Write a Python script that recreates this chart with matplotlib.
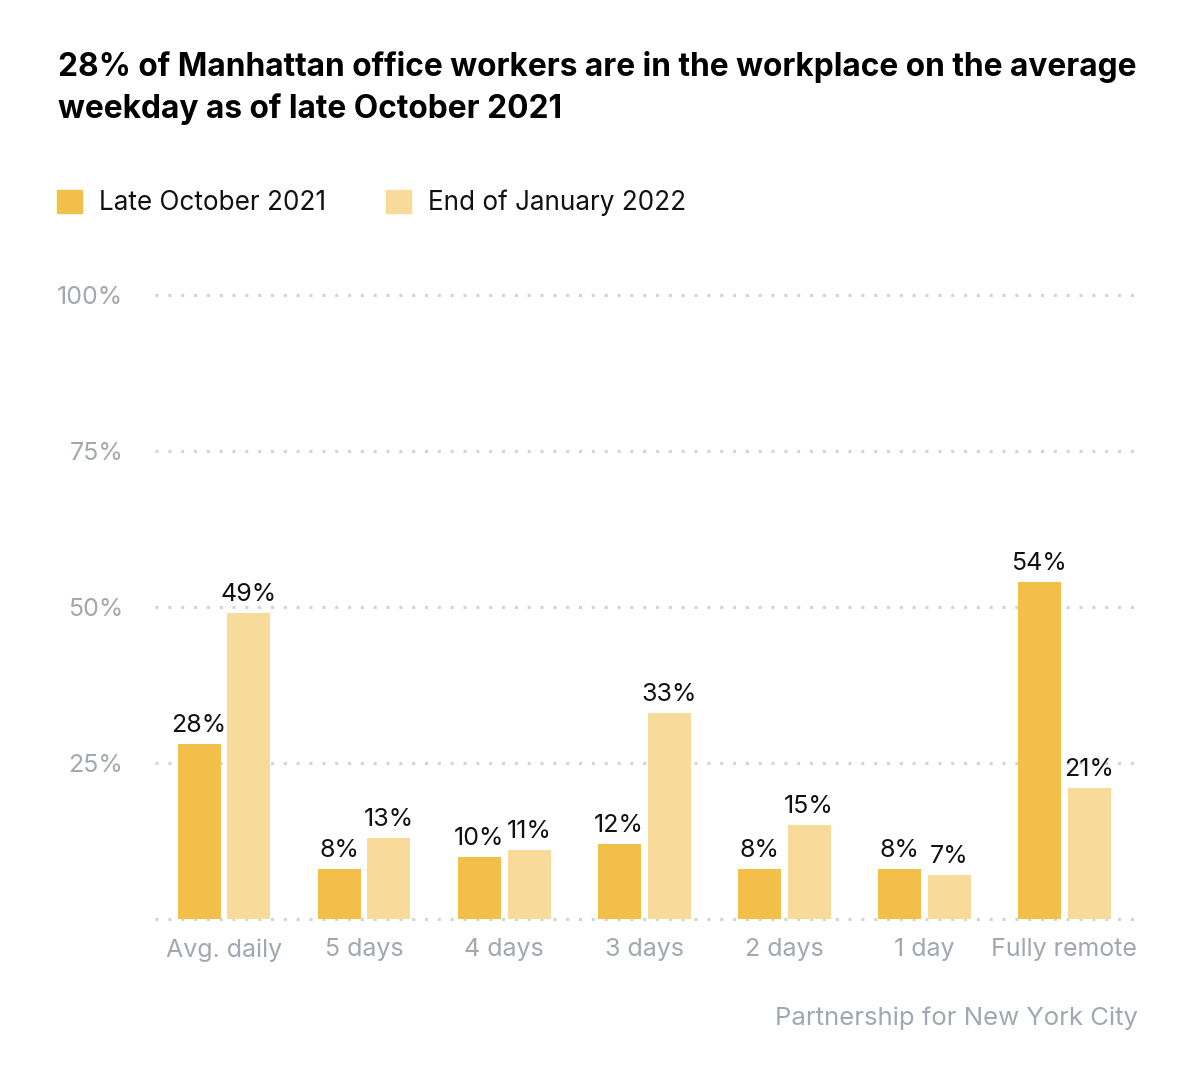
import numpy as np
import matplotlib.pyplot as plt
from matplotlib.patches import Rectangle

plt.rcParams['font.family'] = ['Inter', 'DejaVu Sans']

# data
categories = ['Avg. daily', '5 days', '4 days', '3 days', '2 days', '1 day', 'Fully remote']
late_oct_2021 = [28, 8, 10, 12, 8, 8, 54]
end_jan_2022 = [49, 13, 11, 33, 15, 7, 21]
series_names = ['Late October 2021', 'End of January 2022']
y_ticks = [0, 25, 50, 75, 100]
y_tick_labels = ['', '25%', '50%', '75%', '100%']

c_dark = '#F2C04A'
c_light = '#F8DB9A'
c_grey = '#A3A7AF'

fig = plt.figure(figsize=(12, 10.81), dpi=100)
ax = fig.add_axes([155 / 1200, 1 - 919 / 1081, 975 / 1200, 624 / 1081])

x = np.arange(len(categories))
w = 0.307
off = 0.178
b1 = ax.bar(x - off, late_oct_2021, width=w, color=c_dark, zorder=3)
b2 = ax.bar(x + off, end_jan_2022, width=w, color=c_light, zorder=3)

for bars, vals in [(b1, late_oct_2021), (b2, end_jan_2022)]:
    for r, v in zip(bars, vals):
        ax.annotate(f'{v}%', (r.get_x() + r.get_width() / 2, v), xytext=(0, 5),
                    textcoords='offset points', ha='center', va='bottom',
                    fontsize=18, color='#111111', clip_on=False)

ax.set_xlim(-0.493, 6.47)
ax.set_ylim(0, 100)
for y in y_ticks:
    ax.axhline(y, xmax=1.012, color='#D2D4D8', linestyle=(0, (1, 3.2)), linewidth=2.2,
               zorder=1, clip_on=False)

ax.set_yticks(y_ticks)
ax.set_yticklabels(y_tick_labels)
ax.set_xticks(x)
ax.set_xticklabels(categories)
ax.tick_params(axis='both', length=0, labelsize=18, labelcolor=c_grey)
ax.tick_params(axis='y', pad=23)
ax.tick_params(axis='x', pad=14)
for s in ax.spines.values():
    s.set_visible(False)

# title
fig.text(58 / 1200, 1 - 51 / 1081,
         '28% of Manhattan office workers are in the workplace on the average\nweekday as of late October 2021',
         fontsize=22.8, fontweight='bold', color='#000000', ha='left', va='top', linespacing=1.4)

# legend
for i, (name, col, xs) in enumerate(zip(series_names, [c_dark, c_light], [57, 386])):
    fig.patches.append(Rectangle((xs / 1200, 1 - 213 / 1081), 25 / 1200, 23 / 1081,
                                 transform=fig.transFigure, color=col))
    fig.text((xs + 42) / 1200, 1 - 203 / 1081, name, fontsize=18.8, color='#111111',
             ha='left', va='center')

# source
fig.text(1138 / 1200, 1 - 1018 / 1081, 'Partnership for New York City', fontsize=18.5,
         color=c_grey, ha='right', va='center')

fig.savefig('out.png', dpi=100, facecolor='white')
